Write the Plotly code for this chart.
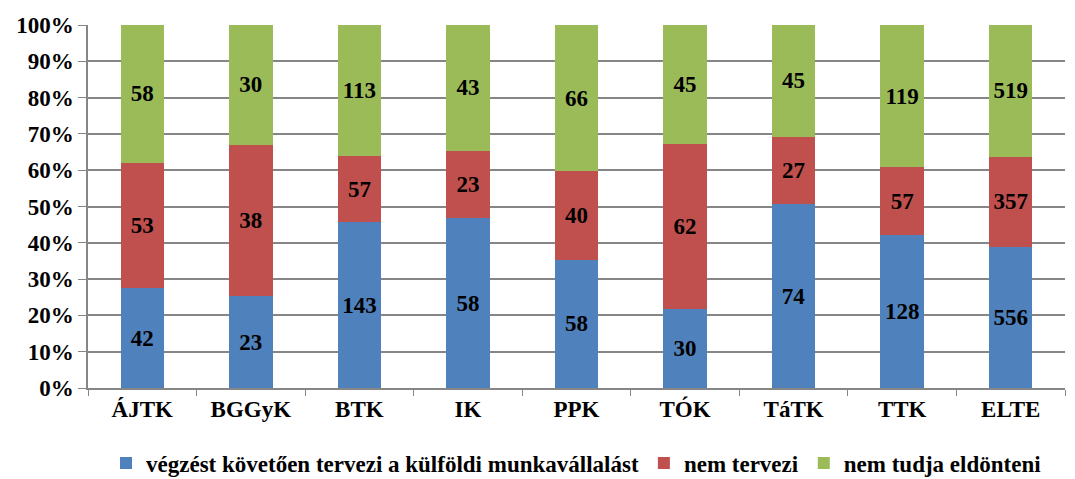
import plotly.graph_objects as go

categories = ["ÁJTK", "BGGyK", "BTK", "IK", "PPK", "TÓK", "TáTK", "TTK", "ELTE"]
plans = [42, 23, 143, 58, 58, 30, 74, 128, 556]
not_plan = [53, 38, 57, 23, 40, 62, 27, 57, 357]
undecided = [58, 30, 113, 43, 66, 45, 45, 119, 519]

series = [
    ("végzést követően tervezi a külföldi munkavállalást", plans, "#4F81BD"),
    ("nem tervezi", not_plan, "#C0504D"),
    ("nem tudja eldönteni", undecided, "#9BBB59"),
]

FONT = "Liberation Serif"
SZ = 23
fig = go.Figure()
for name, vals, col in series:
    fig.add_trace(go.Bar(
        x=categories, y=vals, name=name, marker_color=col,
        marker_line_width=0,
        text=[str(v) for v in vals], textposition="inside",
        insidetextanchor="middle", textangle=0,
        textfont=dict(family=FONT, size=SZ, color="black", weight="bold"),
        constraintext="none",
    ))

fig.update_layout(
    barmode="stack", barnorm="percent", bargap=0.6,
    width=1067, height=471,
    margin=dict(l=80, r=10, t=17, b=91, autoexpand=False),
    plot_bgcolor="white", paper_bgcolor="white",
    font=dict(family=FONT, size=SZ, color="black", weight="bold"),
    uniformtext=dict(minsize=10, mode="show"),
    legend=dict(orientation="h", x=0.5, xanchor="center", y=-0.207, yanchor="middle",
                font=dict(family=FONT, size=SZ, color="black", weight="bold"),
                traceorder="normal", itemwidth=30),
)
fig.update_yaxes(range=[0, 100], dtick=10, ticksuffix="%", showgrid=True,
                 gridcolor="#868686", gridwidth=1.5, showline=True, linecolor="#868686",
                 linewidth=1.5, ticks="outside", ticklen=8, tickcolor="#868686",
                 automargin=False,
                 tickfont=dict(family=FONT, size=SZ, color="black", weight="bold"), zeroline=False)
fig.update_xaxes(showline=True, linecolor="#868686", linewidth=1.5, ticks="outside",
                 tickson="boundaries", ticklen=6, tickcolor="#868686", automargin=False,
                 tickfont=dict(family=FONT, size=SZ, color="black", weight="bold"))
fig.write_html("out.html")
